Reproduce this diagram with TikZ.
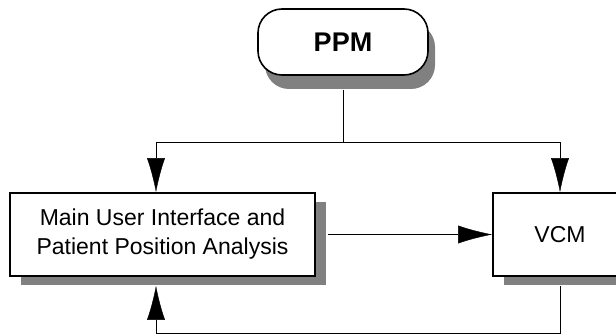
\documentclass[tikz,border=0pt]{standalone}
\usepackage{fontspec}
\setmainfont{Liberation Sans}
\usepackage{tikz}
\usetikzlibrary{arrows.meta}
\usetikzlibrary{shadows}
\tikzset{>={Latex[length=34pt,width=18pt]}, line width=2pt}
\tikzset{
  ppmbox/.style={draw,fill=white,rounded corners=24pt,line width=1.6pt,
    minimum width=170pt,minimum height=66pt,
    drop shadow={shadow xshift=7pt,shadow yshift=-14pt,fill=black!50,opacity=1},
    font=\fontsize{27}{30}\selectfont\bfseries},
  modbox/.style={draw,fill=white,line width=1.6pt,minimum height=83pt,align=center,
    drop shadow={shadow xshift=11pt,shadow yshift=-9pt,fill=black!50,opacity=1},
    font=\fontsize{23}{29}\selectfont}
}

\begin{document}
\begin{tikzpicture}[x=1pt,y=1pt]
  \clip (0,0) rectangle (616,335);

  % boxes
  \node[ppmbox] (ppm) at (343,293) {PPM};
  \node[modbox,minimum width=305pt] (main) at (162.5,100.5)
    {Main User Interface and\\Patient Position Analysis};
  \node[modbox,minimum width=134pt] (vcm) at (560,100.5) {VCM};

  % junction under PPM
  \coordinate (jl) at (156,193);
  \coordinate (jr) at (560,193);
  \coordinate (fb) at (156,2);
  \coordinate (mainshadow) at ([yshift=-9pt]main.south);

  \draw ([yshift=-14pt]ppm.south) -- (ppm.south |- jl);
  \draw (jl) -- (jr);
  \draw[->] (jl) -- (jl |- main.north);
  \draw[->] (jr) -- (vcm.north);

  % main to VCM
  \draw[->] ([xshift=12pt]main.east) -- (vcm.west);

  % feedback
  \draw[->] ([yshift=-9pt]vcm.south) |- (fb) -- (fb |- mainshadow);
\end{tikzpicture}
\end{document}
